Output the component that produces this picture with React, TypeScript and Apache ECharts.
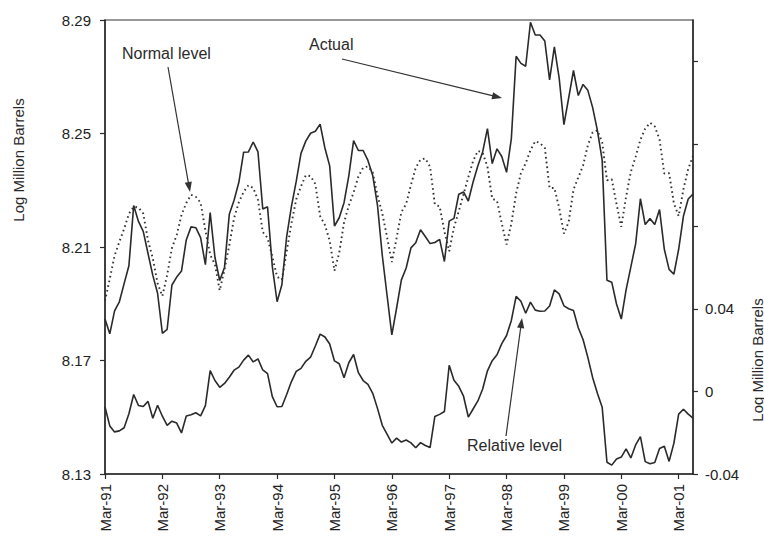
import React, { useEffect, useRef } from "react";
import * as echarts from "echarts";

const monthNames = ["Jan", "Feb", "Mar", "Apr", "May", "Jun", "Jul", "Aug", "Sep", "Oct", "Nov", "Dec"];
const startMonth = 2; // March
const startYear = 91;
const monthCount = 124; // Mar-91 .. Jun-01

const categories: string[] = [];
for (let k = 0; k < monthCount; k++) {
  const m = (startMonth + k) % 12;
  const y = (startYear + Math.floor((startMonth + k) / 12)) % 100;
  categories.push(monthNames[m] + "-" + String(y).padStart(2, "0"));
}

const actual = [
  8.1846, 8.1794, 8.1875, 8.1907, 8.1971, 8.2034, 8.2246, 8.2190, 8.2155, 8.2077,
  8.2000, 8.1937, 8.1796, 8.1810, 8.1966, 8.1994, 8.2015, 8.2125, 8.2171, 8.2168,
  8.2133, 8.2038, 8.2221, 8.2063, 8.1982, 8.2028, 8.2215, 8.2265, 8.2328, 8.2434,
  8.2435, 8.2470, 8.2435, 8.2234, 8.2242, 8.2031, 8.1907, 8.1967, 8.2137, 8.2243,
  8.2331, 8.2430, 8.2473, 8.2501, 8.2508, 8.2533, 8.2449, 8.2386, 8.2174, 8.2203,
  8.2256, 8.2351, 8.2475, 8.2440, 8.2440, 8.2405, 8.2352, 8.2247, 8.2071, 8.1930,
  8.1790, 8.1885, 8.1984, 8.2026, 8.2097, 8.2115, 8.2161, 8.2137, 8.2112, 8.2116,
  8.2127, 8.2049, 8.2191, 8.2201, 8.2286, 8.2294, 8.2262, 8.2329, 8.2386, 8.2435,
  8.2517, 8.2394, 8.2446, 8.2419, 8.2363, 8.2482, 8.2772, 8.2747, 8.2737, 8.2892,
  8.2847, 8.2847, 8.2826, 8.2689, 8.2805, 8.2696, 8.2531, 8.2626, 8.2722, 8.2634,
  8.2673, 8.2652, 8.2592, 8.2511, 8.2406, 8.1983, 8.1976, 8.1899, 8.1846, 8.1949,
  8.2030, 8.2111, 8.2270, 8.2179, 8.2200, 8.2179, 8.2232, 8.2092, 8.2021, 8.2004,
  8.2092, 8.2209, 8.2269, 8.2287,
];

const normal = [
  8.1910, 8.1988, 8.2069, 8.2118, 8.2164, 8.2217, 8.2242, 8.2239, 8.2218, 8.2123,
  8.2060, 8.1972, 8.1927, 8.2001, 8.2096, 8.2142, 8.2213, 8.2255, 8.2284, 8.2277,
  8.2256, 8.2158, 8.2073, 8.2038, 8.1947, 8.2021, 8.2106, 8.2202, 8.2258, 8.2294,
  8.2318, 8.2308, 8.2266, 8.2153, 8.2132, 8.2066, 8.1995, 8.1985, 8.2084, 8.2183,
  8.2268, 8.2314, 8.2353, 8.2350, 8.2322, 8.2209, 8.2178, 8.2122, 8.2016, 8.2080,
  8.2186, 8.2246, 8.2292, 8.2348, 8.2380, 8.2384, 8.2363, 8.2282, 8.2219, 8.2135,
  8.2047, 8.2132, 8.2223, 8.2252, 8.2319, 8.2379, 8.2408, 8.2412, 8.2383, 8.2250,
  8.2243, 8.2155, 8.2085, 8.2169, 8.2226, 8.2286, 8.2346, 8.2403, 8.2439, 8.2432,
  8.2383, 8.2270, 8.2263, 8.2183, 8.2109, 8.2183, 8.2289, 8.2360, 8.2395, 8.2441,
  8.2473, 8.2466, 8.2449, 8.2308, 8.2308, 8.2238, 8.2147, 8.2189, 8.2302, 8.2345,
  8.2387, 8.2458, 8.2504, 8.2511, 8.2469, 8.2335, 8.2339, 8.2252, 8.2171, 8.2277,
  8.2365, 8.2418, 8.2478, 8.2517, 8.2538, 8.2525, 8.2479, 8.2359, 8.2360, 8.2254,
  8.2209, 8.2304, 8.2375, 8.2421,
];

const relative = [
  -0.0075, -0.0167, -0.0196, -0.0191, -0.0176, -0.0108, -0.0015, -0.0068, -0.0073, -0.0048,
  -0.0130, -0.0067, -0.0120, -0.0164, -0.0144, -0.0153, -0.0201, -0.0119, -0.0113, -0.0103,
  -0.0118, -0.0069, 0.0101, 0.0053, 0.0020, 0.0039, 0.0069, 0.0103, 0.0118, 0.0152,
  0.0176, 0.0143, 0.0158, 0.0104, 0.0086, -0.0025, -0.0074, -0.0073, -0.0015, 0.0048,
  0.0097, 0.0112, 0.0146, 0.0166, 0.0220, 0.0278, 0.0264, 0.0230, 0.0148, 0.0134,
  0.0066, 0.0139, 0.0179, 0.0091, 0.0053, 0.0034, -0.0009, -0.0082, -0.0164, -0.0207,
  -0.0250, -0.0226, -0.0245, -0.0235, -0.0249, -0.0273, -0.0248, -0.0262, -0.0272, -0.0121,
  -0.0111, -0.0097, 0.0127, 0.0054, 0.0025, -0.0023, -0.0124, -0.0085, -0.0046, 0.0012,
  0.0100, 0.0149, 0.0178, 0.0232, 0.0271, 0.0344, 0.0461, 0.0437, 0.0379, 0.0433,
  0.0394, 0.0389, 0.0390, 0.0414, 0.0492, 0.0473, 0.0415, 0.0401, 0.0392, 0.0309,
  0.0252, 0.0165, 0.0068, -0.0009, -0.0076, -0.0343, -0.0357, -0.0327, -0.0318, -0.0278,
  -0.0322, -0.0259, -0.0219, -0.0340, -0.0350, -0.0344, -0.0276, -0.0266, -0.0339, -0.0251,
  -0.0110, -0.0086, -0.0110, -0.0129,
];

const leftTicks = [8.13, 8.17, 8.21, 8.25, 8.29];
const rightTickValues = [-0.04, 0, 0.04, 0.08, 0.12, 0.16];
const rightLabelValues = [-0.04, 0, 0.04];

const FONT = "'Liberation Sans', Arial, Helvetica, sans-serif";
const INK = "#2a2a2a";

function arrow(x1: number, y1: number, x2: number, y2: number) {
  const dx = x2 - x1;
  const dy = y2 - y1;
  const L = Math.hypot(dx, dy);
  const ux = dx / L;
  const uy = dy / L;
  const hl = 10;
  const hw = 3.6;
  const bx = x2 - ux * hl;
  const by = y2 - uy * hl;
  const px = -uy;
  const py = ux;
  return [
    { type: "line", z: 10, shape: { x1, y1, x2: bx + ux * 2, y2: by + uy * 2 }, style: { stroke: "#333", lineWidth: 1.2 } },
    {
      type: "polygon",
      z: 10,
      shape: { points: [[x2, y2], [bx + px * hw, by + py * hw], [bx - px * hw, by - py * hw]] },
      style: { fill: "#333" },
    },
  ];
}

function text(x: number, y: number, t: string, size: number, extra: any = {}) {
  return {
    type: "text",
    z: 10,
    x,
    y,
    ...extra,
    style: { text: t, fontSize: size, fill: "#2a2a2a", fontFamily: FONT, align: "left", verticalAlign: "middle", ...(extra.style || {}) },
  };
}

export default function App() {
  const ref = useRef<HTMLDivElement>(null);

  useEffect(() => {
    if (!ref.current) return;
    const chart = echarts.init(ref.current, null, { renderer: "svg" });
    const yearTick = (idx: number) => idx % 12 === 0;

    chart.setOption({
      animation: false,
      backgroundColor: "#ffffff",
      grid: {
        left: 105,
        top: 20,
        width: 588,
        height: 454,
        show: true,
        borderColor: "#333",
        borderWidth: 1.2,
        backgroundColor: "transparent",
      },
      xAxis: {
        type: "category",
        data: categories,
        boundaryGap: false,
        axisLine: { onZero: false, lineStyle: { color: INK, width: 1.5 } },
        axisTick: { interval: yearTick, length: 5, lineStyle: { color: INK, width: 1.2 } },
        axisLabel: {
          interval: yearTick,
          rotate: 90,
          fontSize: 15,
          color: "#222",
          fontFamily: FONT,
          margin: 10,
        },
        splitLine: { show: false },
      },
      yAxis: [
        {
          type: "value",
          position: "left",
          min: leftTicks[0],
          max: leftTicks[leftTicks.length - 1],
          interval: 0.04,
          axisLine: { show: true, lineStyle: { color: INK, width: 1.5 } },
          axisTick: { show: true, length: 5, lineStyle: { color: INK, width: 1.2 } },
          axisLabel: {
            fontSize: 15,
            color: "#222",
            fontFamily: FONT,
            margin: 14,
            formatter: (v: number) => v.toFixed(2),
          },
          splitLine: { show: false },
        },
        {
          type: "value",
          position: "right",
          min: -0.04,
          max: 0.18,
          interval: 0.04,
          axisLine: { show: true, onZero: false, lineStyle: { color: INK, width: 1.5 } },
          axisTick: { show: true, length: 5, customValues: rightTickValues, lineStyle: { color: INK, width: 1.2 } },
          axisLabel: {
            fontSize: 15,
            color: "#222",
            fontFamily: FONT,
            margin: 12,
            customValues: rightLabelValues,
            formatter: (v: number) => (Math.abs(v) < 1e-9 ? "0" : v.toFixed(2)),
          },
          splitLine: { show: false },
        },
      ],
      series: [
        {
          name: "Actual",
          type: "line",
          yAxisIndex: 0,
          data: actual,
          showSymbol: false,
          lineStyle: { color: INK, width: 1.6 },
        },
        {
          name: "Normal level",
          type: "line",
          yAxisIndex: 0,
          data: normal,
          showSymbol: false,
          lineStyle: { color: "#333", width: 1.9, type: [1.6, 3.2] },
        },
        {
          name: "Relative level",
          type: "line",
          yAxisIndex: 1,
          data: relative,
          showSymbol: false,
          lineStyle: { color: INK, width: 1.6 },
        },
      ],
      graphic: [
        text(18, 160, "Log Million Barrels", 15, { rotation: Math.PI / 2, style: { align: "center" } }),
        text(757, 360, "Log Million Barrels", 15, { rotation: Math.PI / 2, style: { align: "center" } }),
        text(122, 53, "Normal level", 16),
        text(309, 44, "Actual", 16),
        text(467, 445, "Relative level", 16),
        ...arrow(168, 67, 190, 192),
        ...arrow(342, 59, 502, 98),
        ...arrow(506, 436, 522, 318),
      ],
    });

    return () => chart.dispose();
  }, []);

  return (
    <div
      ref={ref}
      style={{ position: "absolute", left: 0, top: 0, width: 764, height: 546, background: "#fff" }}
    />
  );
}
